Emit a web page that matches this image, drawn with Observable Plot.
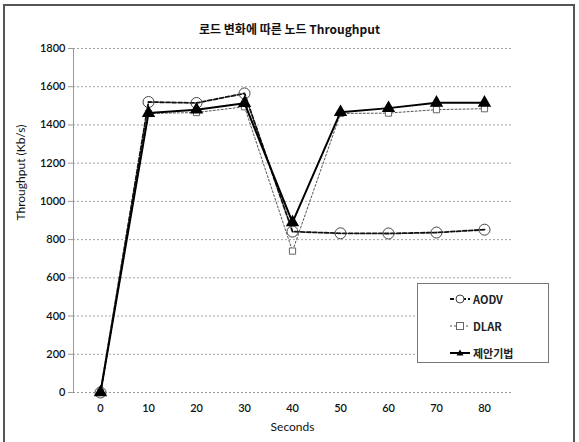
<!DOCTYPE html>
<html><head><meta charset="utf-8">
<script src="https://cdn.jsdelivr.net/npm/d3@7"></script>
<script src="https://cdn.jsdelivr.net/npm/@observablehq/plot@0.6"></script>
<style>
body{margin:0;background:#fff;font-family:Lato,"Noto Sans CJK KR",sans-serif;}
#wrap{position:relative;width:579px;height:442px;overflow:hidden;background:#fff;}
#frame{position:absolute;left:3px;top:4px;width:572px;height:445px;border:2px solid #555;box-sizing:border-box;pointer-events:none;}
#title{position:absolute;left:0;top:20px;width:579px;text-align:center;font-family:"Noto Sans CJK KR",sans-serif;font-weight:bold;font-size:12px;color:#111;}
#chart{position:absolute;left:0;top:38px;}
#legend{position:absolute;left:417px;top:283px;width:132px;height:80px;border:1.5px solid #777;background:#fff;box-sizing:border-box;}
#legend .row{position:absolute;left:32px;height:14px;display:flex;align-items:center;font-size:11px;font-family:"Noto Sans CJK KR",Lato,sans-serif;font-weight:bold;color:#222;}
</style></head>
<body>
<div id="wrap">
  <div id="title">로드 변화에 따른 노드 Throughput</div>
  <div id="chart"></div>
  <div id="legend"></div>
  <div id="frame"></div>
</div>
<script>
const seconds = [0, 10, 20, 30, 40, 50, 60, 70, 80];
const aodv = [0, 1520, 1515, 1565, 842, 833, 832, 837, 852];
const dlar = [0, 1460, 1465, 1495, 740, 1460, 1462, 1480, 1485];
const proposed = [0, 1462, 1480, 1514, 890, 1467, 1488, 1516, 1516];
const yTicks = [0, 200, 400, 600, 800, 1000, 1200, 1400, 1600, 1800];
const seriesNames = ["AODV", "DLAR", "제안기법"];

const rows = (vals, name) => seconds.map((s, i) => ({s, v: vals[i], name}));
const A = rows(aodv, seriesNames[0]);
const D = rows(dlar, seriesNames[1]);
const P = rows(proposed, seriesNames[2]);

const plot = Plot.plot({
  width: 579,
  height: 400,
  marginLeft: 73,
  marginRight: 68,
  marginTop: 10,
  marginBottom: 46,
  style: {fontFamily: "Lato, sans-serif", fontSize: "11px", color: "#111", background: "transparent"},
  x: {type: "point", domain: seconds, padding: 0.5, label: null},
  y: {domain: [0, 1800], label: null},
  marks: [
    Plot.gridY(yTicks, {stroke: "#999", strokeOpacity: 0.9, strokeDasharray: "2,2"}),
    Plot.frame({anchor: "left", stroke: "#999"}),
    Plot.ruleY([0], {stroke: "#999", strokeDasharray: "2,2"}),
    Plot.axisY(yTicks, {tickSize: 5, tickPadding: 3, stroke: "#999", fontSize: 11, fill: "#111", fontWeight: 600, tickFormat: d => String(d)}),
    Plot.axisX(seconds, {tickSize: 0, tickPadding: 12, fontSize: 11, fill: "#111", fontWeight: 600}),
    Plot.text(["Seconds"], {frameAnchor: "bottom", dy: 38, fontSize: 12, fill: "#111"}),
    Plot.text(["Throughput (Kb/s)"], {frameAnchor: "left", dx: -52, rotate: -90, fontSize: 12, fill: "#111"}),
    // DLAR
    Plot.line(D, {x: "s", y: "v", stroke: "#555", strokeWidth: 1, strokeDasharray: "2,2"}),
    Plot.dot(D, {x: "s", y: "v", symbol: "square", r: 3.5, stroke: "#666", fill: "white", strokeWidth: 1}),
    // AODV
    Plot.line(A, {x: "s", y: "v", stroke: "#111", strokeWidth: 1.8, strokeDasharray: "4,2"}),
    Plot.dot(A, {x: "s", y: "v", symbol: "circle", r: 5.5, stroke: "#444", fill: "none", strokeWidth: 1}),
    // Proposed
    Plot.line(P, {x: "s", y: "v", stroke: "#000", strokeWidth: 2}),
    Plot.dot(P, {x: "s", y: "v", symbol: "triangle", r: 4, fill: "#000", stroke: "#000"})
  ]
});
document.getElementById("chart").appendChild(plot);

// Legend
const legend = document.getElementById("legend");
const styles = [
  {dash: "4,2", sw: 1.8, stroke: "#111", sym: "circle"},
  {dash: "2,2", sw: 1, stroke: "#555", sym: "square"},
  {dash: null, sw: 2, stroke: "#000", sym: "triangle"}
];
seriesNames.forEach((n, i) => {
  const st = styles[i];
  const row = document.createElement("div");
  row.className = "row";
  row.style.top = (8 + i * 27) + "px";
  let symEl = "";
  if (st.sym === "circle") symEl = `<circle cx="10" cy="7" r="4" fill="white" stroke="#444"/>`;
  else if (st.sym === "square") symEl = `<rect x="6.5" y="3.5" width="7" height="7" fill="white" stroke="#666"/>`;
  else symEl = `<path d="M10,3.5 L13.5,9.5 L6.5,9.5 Z" fill="#000"/>`;
  row.innerHTML = `<svg width="20" height="14"><line x1="0" x2="20" y1="7" y2="7" stroke="${st.stroke}" stroke-width="${st.sw}" ${st.dash ? `stroke-dasharray="${st.dash}"` : ""}/>${symEl}</svg><span style="margin-left:3px">${n}</span>`;
  legend.appendChild(row);
});
</script>
</body></html>
